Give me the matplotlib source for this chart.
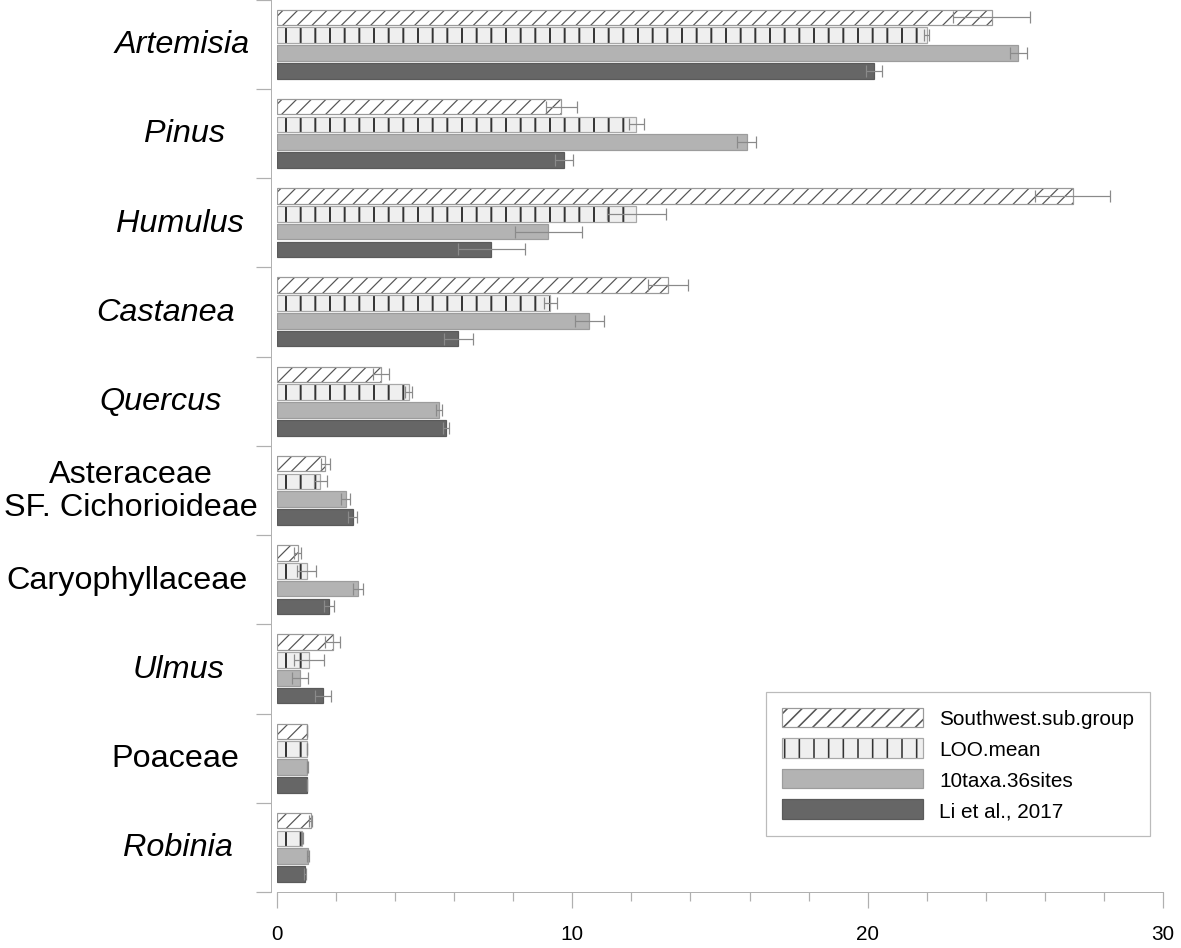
import numpy as np
import matplotlib
matplotlib.use("Agg")
import matplotlib.pyplot as plt
import matplotlib.transforms as mtransforms
from matplotlib.patches import Patch
from matplotlib.legend_handler import HandlerTuple

# categories, top to bottom
categories = ["Artemisia", "Pinus", "Humulus", "Castanea", "Quercus",
              "Asteraceae\nSF. Cichorioideae", "Caryophyllaceae", "Ulmus",
              "Poaceae", "Robinia"]
italic = [True, True, True, True, True, False, False, True, False, True]

series_names = ["Southwest.sub.group", "LOO.mean", "10taxa.36sites", "Li et al., 2017"]

southwest = [24.2, 9.63, 26.95, 13.24, 3.52, 1.64, 0.70, 1.88, 1.02, 1.14]
southwest_err = [1.3, 0.53, 1.27, 0.68, 0.27, 0.16, 0.12, 0.27, 0.01, 0.05]
loo = [22.0, 12.17, 12.17, 9.26, 4.46, 1.47, 1.00, 1.08, 1.02, 0.86]
loo_err = [0.08, 0.25, 1.0, 0.23, 0.12, 0.23, 0.31, 0.52, 0.01, 0.01]
taxa10 = [25.1, 15.9, 9.19, 10.58, 5.5, 2.32, 2.73, 0.77, 1.03, 1.05]
taxa10_err = [0.28, 0.31, 1.13, 0.5, 0.1, 0.14, 0.17, 0.27, 0.01, 0.03]
li2017 = [20.2, 9.71, 7.26, 6.14, 5.73, 2.56, 1.77, 1.57, 1.02, 0.94]
li2017_err = [0.27, 0.3, 1.13, 0.5, 0.11, 0.15, 0.17, 0.27, 0.01, 0.03]

# label centres (pixels from the left edge of the figure)
label_x_px = [182, 185, 180, 166, 161, 131, 127, 179, 175, 178]

DPI = 88
W, H = 1181, 949
plt.rcParams['font.family'] = ['Liberation Sans', 'DejaVu Sans']
plt.rcParams['hatch.linewidth'] = 1.3

fig = plt.figure(figsize=(W / DPI, H / DPI), dpi=DPI)
ax = fig.add_axes([277 / W, (H - 893) / H, (1163 - 277) / W, 892.5 / H])

y = np.arange(len(categories))
bar_h = 0.175
offsets = [-0.3, -0.1, 0.1, 0.3]

values = [southwest, loo, taxa10, li2017]
errors = [southwest_err, loo_err, taxa10_err, li2017_err]

# style per series: face, hatch, hatch colour, outline
styles = [
    dict(face="white", hatch="//", hcol="#555555", edge="#9a9a9a", hlw=1.0),
    dict(face="#efefef", hatch="|", hcol="#333333", edge="#a8a8a8", hlw=1.6),
    dict(face="#b3b3b3", hatch=None, hcol="#999999", edge="#9c9c9c", hlw=1.0),
    dict(face="#666666", hatch=None, hcol="#555555", edge="#5a5a5a", hlw=1.0),
]


def set_hlw(patch, lw):
    # per-patch hatch width where this matplotlib supports it
    if hasattr(patch, "set_hatch_linewidth"):
        patch.set_hatch_linewidth(lw)


handles = []
for vals, errs, off, st in zip(values, errors, offsets, styles):
    ypos = y + off
    # hatched fill layer (hatch takes edge colour, so no outline here)
    bars = ax.barh(ypos, vals, height=bar_h, color=st["face"], hatch=st["hatch"],
                   edgecolor=st["hcol"], linewidth=0, zorder=2)
    for b in bars:
        set_hlw(b, st["hlw"])
    # outline layer
    ax.barh(ypos, vals, height=bar_h, facecolor="none",
            edgecolor=st["edge"], linewidth=1.0, zorder=3)
    ax.errorbar(vals, ypos, xerr=errs, fmt="none", ecolor="#8a8a8a",
                elinewidth=1.0, capsize=5, capthick=1.0, zorder=4)
    p1 = Patch(facecolor=st["face"], hatch=st["hatch"], edgecolor=st["hcol"], linewidth=0)
    set_hlw(p1, st["hlw"])
    p2 = Patch(facecolor="none", edgecolor=st["edge"], linewidth=1.0)
    handles.append((p1, p2))

ax.set_xlim(0, 30)
ax.set_ylim(len(categories) - 0.5, -0.5)

# axes look
for s in ["top", "right"]:
    ax.spines[s].set_visible(False)
ax.spines["left"].set_position(("outward", 6.5 * 72 / DPI))
ax.spines["left"].set_color("#b0b0b0")
ax.spines["bottom"].set_color("#b0b0b0")

ax.set_yticks(np.arange(-0.5, len(categories), 1.0))
ax.set_yticklabels([])
ax.tick_params(axis="y", length=12, color="#b0b0b0", width=1)

ax.set_xticks([0, 10, 20, 30])
ax.set_xticks(np.arange(0, 31, 2), minor=True)
ax.tick_params(axis="x", which="major", length=13, color="#b0b0b0", width=1,
               labelsize=17, pad=13)
ax.tick_params(axis="x", which="minor", length=7.5, color="#b0b0b0", width=1)

# category labels on the left
trans = mtransforms.blended_transform_factory(fig.transFigure, ax.transData)
for name, it, xp, yy in zip(categories, italic, label_x_px, y):
    ax.text(xp / W, yy, name, transform=trans, ha="center", va="center",
            fontsize=26.5, style="italic" if it else "normal",
            multialignment="center", linespacing=1.12, clip_on=False)

leg = ax.legend(handles, series_names, handler_map={tuple: HandlerTuple(ndivide=1, pad=0)},
                loc="upper right", bbox_to_anchor=(1150 / W, 1 - 693 / H),
                bbox_transform=fig.transFigure, borderaxespad=0,
                fontsize=17, handlelength=6.8, handleheight=1.07,
                handletextpad=0.8, labelspacing=0.47, borderpad=0.75,
                fancybox=False, frameon=True)
leg.get_frame().set_edgecolor("#aaaaaa")
leg.get_frame().set_linewidth(1.0)

fig.savefig("out.png", dpi=DPI)
